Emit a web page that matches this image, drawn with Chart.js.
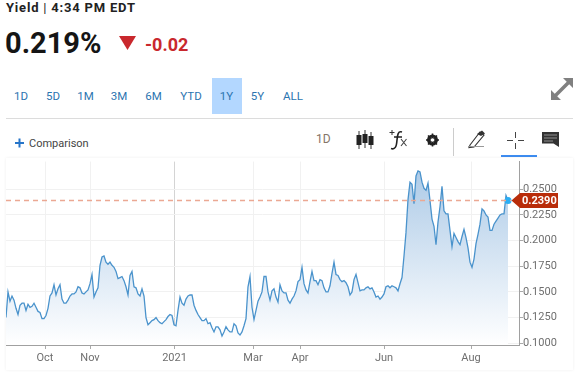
<!DOCTYPE html>
<html>
<head>
<meta charset="utf-8">
<script src="https://cdn.jsdelivr.net/npm/chart.js@4"></script>
<style>
html, body { margin: 0; padding: 0; background: #fff; }
body { width: 580px; height: 373px; overflow: hidden; position: relative; font-family: Roboto, Arial, sans-serif; }
.t { position: absolute; white-space: nowrap; line-height: 1; }
.range { position: absolute; top: 90px; width: 30px; margin-left: -15px; text-align: center; font-size: 11.5px; line-height: 12px; color: #2b74b0; }
#card { position: absolute; left: 6px; top: 158px; width: 567px; height: 212px; box-shadow: 0 0 3px rgba(0,0,0,0.07); }
#chartBox { position: absolute; left: 0; top: 155px; width: 580px; height: 218px; }
svg { position: absolute; overflow: visible; }
</style>
</head>
<body>
<div class="t" style="left:6px;top:1px;font-size:13px;font-weight:700;color:#222;letter-spacing:.8px">Yield <span style="font-weight:400">|</span> 4:34 PM EDT</div>
<div class="t" style="left:5px;top:29px;font-size:29px;font-weight:700;color:#151515">0.219%</div>
<svg style="left:0;top:0" width="10" height="10"><path d="M119 36 H136 L127.500 50 Z" fill="#c9282d"/></svg>
<div class="t" style="left:145px;top:35.500px;font-size:18px;font-weight:700;color:#c9282d">-0.02</div>

<div style="position:absolute;left:212px;top:78px;width:30px;height:36px;background:#b3d7ff"></div>
<div id="ranges"></div>
<svg style="left:0;top:0" width="10" height="10">
  <path d="M551 100 V90 L561 100 Z M573 78 H563 L573 88 Z" fill="#808080"/>
  <path d="M555 96 L569 82" stroke="#808080" stroke-width="3.500"/>
</svg>
<div style="position:absolute;left:6px;top:118px;width:567px;height:1px;background:#dcdcdc"></div>

<svg style="left:0;top:0" width="10" height="10"><path d="M19.500 138.500 V147.500 M15 143 H24" stroke="#2675c9" stroke-width="2"/></svg>
<div class="t" style="left:29px;top:137.500px;font-size:11px;color:#444">Comparison</div>
<div class="t" style="left:316px;top:133px;font-size:12px;color:#857568">1D</div>

<svg style="left:0;top:0" width="10" height="10">
  <path d="M359 131 V149 M365 130 V148 M371 132 V149" stroke="#333" stroke-width="1"/>
  <rect x="356.500" y="135" width="5" height="10" fill="#222"/><rect x="362.500" y="134" width="5" height="9" fill="#222"/><rect x="368.500" y="136" width="5" height="9" fill="#222"/>
  <path d="M392 130 V135 M389.500 132.500 H394.500" stroke="#333" stroke-width="1"/>
  <path d="M402 132 C398 130.500 397.500 135 397 140 C396.500 147 395 150 391 148.500 M394 137 H402" stroke="#222" stroke-width="1.600" fill="none"/>
  <path d="M401 139 L406.500 146 M406.500 139 L401 146" stroke="#444" stroke-width="1.100"/>
  <circle cx="432.500" cy="140" r="4" fill="none" stroke="#222" stroke-width="3"/>
  <path d="M432.500 133.500 V146.500 M426 140 H439 M428 135.500 L437 144.500 M437 135.500 L428 144.500" stroke="#222" stroke-width="1.600"/>
  <circle cx="432.500" cy="140" r="1.800" fill="#fff"/>
  <path d="M453.500 128 V156" stroke="#ccc"/>
  <path d="M470 145 L480 132 L484 135 L474 147 L469 147.500 Z" fill="none" stroke="#333" stroke-width="1.100"/>
  <path d="M477 134 L482 130.500 L485 133.500 L481 136 Z" fill="#333"/>
  <path d="M468 146.500 H484" stroke="#999"/>
  <path d="M507 140.500 H513 M518 140.500 H524 M515.500 132 V138 M515.500 143 V149" stroke="#444"/>
  <rect x="501" y="155" width="36" height="2" fill="#3d8cf0"/>
  <path d="M542 132 H559 V147 L553.500 143.500 H542 Z" fill="#333"/>
  <path d="M544 135 H557 M544 138 H557 M544 141 H553" stroke="#aaa" stroke-width=".8"/>
</svg>

<div id="card"></div>
<div id="chartBox"><canvas id="yieldChart" width="580" height="218"></canvas></div>

<script>
const rangeLabels = ['1D', '5D', '1M', '3M', '6M', 'YTD', '1Y', '5Y', 'ALL'];
const rangeCenters = [21, 53, 85.5, 119, 153.5, 191, 226.5, 257.5, 293];

// one close per trading day, Sep 2020 to Aug 2021
const yields = [
    .125,.150,.141,.146,.142,.134,.128,.137,.139,.139,.132,.138,.135,.136,.139,.135,.131,.130,.124,.124,
    .127,.134,.146,.149,.157,.147,.153,.157,.143,.139,.139,.142,.146,.148,.148,.150,.155,.154,.149,.148,.150,.152,.158,
    .167,.145,.150,.154,.176,.184,.185,.179,.177,.179,.176,.174,.170,.163,.164,.165,.161,.155,.147,.166,.170,.155,.154,.148,.146,.153,.146,.125,.118,.120,.122,.123,.125,.122,.120,.119,.121,.123,.126,.128,.127,.118,.117,.132,.145,
    .139,.137,.143,.146,.147,.147,.137,.132,.128,.125,.122,.122,.124,.119,.120,.115,.111,.116,.116,.113,.107,.111,.116,.113,.111,.111,.119,.117,.110,.108,.111,.117,.124,.155,.165,.135,.123,.132,.141,.145,.150,.165,.165,.150,.142,
    .151,.153,.145,.140,.157,.151,.149,.149,.142,.139,.143,.146,.151,.160,.162,.174,.158,.152,.149,.160,.170,.161,.161,.157,.162,.161,.154,.150,.150,.156,.168,.179,.167,.166,.162,.160,.161,.159,.155,.147,.150,.162,.167,.159,.151,
    .152,.152,.154,.155,.153,.154,.150,.145,.146,.143,.145,.148,.155,.156,.154,.156,.155,.154,.151,.158,.164,.185,.208,.240,.257,.255,.236,.263,.268,.267,.257,.251,.249,.256,.239,.221,.214,.196,.218,.233,.253,.229,.226,.226,.210,.194,.207,.203,.199,.196,.204,.211,.203,.193,.179,.174,.182,.197,.206,.216,.231,.229,.225,.223,.210,.210,.216,.219,.222,.225,.226,.226,.244,.239
];
const lastYield = 0.2390;

const monthLabels = ['Oct', 'Nov', '2021', 'Mar', 'Apr', 'Jun', 'Aug'];
const monthPositions = [19.5, 42, 84.25, 123.5, 147, 189, 232.5];
const yTicks = [0.10, 0.125, 0.15, 0.175, 0.20, 0.225, 0.25];

rangeLabels.forEach(function (label, i) {
    const d = document.createElement('div');
    d.className = 'range';
    d.style.left = rangeCenters[i] + 'px';
    d.textContent = label;
    document.getElementById('ranges').appendChild(d);
});

// dashed last value line and the red price tag on the axis
const lastValuePlugin = {
    id: 'lastValue',
    afterDatasetsDraw(chart) {
        const c = chart.ctx;
        const area = chart.chartArea;
        const y = chart.scales.y.getPixelForValue(lastYield);
        c.save();
        c.strokeStyle = '#eba893';
        c.lineWidth = 1.5;
        c.setLineDash([5, 4]);
        c.beginPath();
        c.moveTo(area.left, y);
        c.lineTo(area.right - 8, y);
        c.stroke();
        c.setLineDash([]);
        c.fillStyle = '#b92d0a';
        c.beginPath();
        c.moveTo(area.right - 7.5, y);
        c.lineTo(area.right + 1, y - 7.5);
        c.lineTo(area.right + 39, y - 7.5);
        c.lineTo(area.right + 39, y + 7.5);
        c.lineTo(area.right + 1, y + 7.5);
        c.closePath();
        c.fill();
        c.fillStyle = '#fff';
        c.font = 'bold 11px Roboto, Arial, sans-serif';
        c.textBaseline = 'middle';
        c.fillText(lastYield.toFixed(4), area.right + 3, y + 0.5);
        c.restore();
    }
};

new Chart(document.getElementById('yieldChart'), {
    type: 'line',
    data: {
        datasets: [{
            data: yields.map((v, i) => ({ x: i, y: v })),
            borderColor: '#4a93cc',
            borderWidth: 1.3,
            tension: 0,
            fill: 'start',
            backgroundColor: function (context) {
                const area = context.chart.chartArea;
                if (!area) return 'transparent';
                const g = context.chart.ctx.createLinearGradient(0, area.top, 0, area.bottom);
                g.addColorStop(0, '#a9c8e6');
                g.addColorStop(1, '#ffffff');
                return g;
            },
            pointRadius: ctx => ctx.dataIndex === yields.length - 1 ? 3.5 : 0,
            pointBackgroundColor: '#29aef5',
            pointBorderWidth: 0
        }]
    },
    plugins: [lastValuePlugin],
    options: {
        responsive: false,
        animation: false,
        layout: { padding: { left: 6, top: 1, right: 0, bottom: 0 } },
        plugins: { legend: { display: false }, tooltip: { enabled: false } },
        scales: {
            x: {
                type: 'linear',
                min: 0,
                max: 256.5,
                afterBuildTicks: axis => { axis.ticks = monthPositions.map(v => ({ value: v })); },
                afterFit: axis => { axis.height = 28; },
                ticks: {
                    autoSkip: false,
                    maxRotation: 0,
                    padding: 3,
                    color: '#6f6f6f',
                    font: { family: 'Roboto, Arial, sans-serif', size: 11 },
                    callback: v => monthLabels[monthPositions.indexOf(v)]
                },
                grid: {
                    color: ctx => ctx.tick && ctx.tick.value === 84.25 ? '#d4d4d4' : '#f1f1f1',
                    tickColor: '#aaaaaa',
                    tickLength: 4
                },
                border: { color: '#a0a0a0' }
            },
            y: {
                position: 'right',
                min: 0.09825,
                max: 0.27702,
                afterBuildTicks: axis => { axis.ticks = yTicks.map(v => ({ value: v })); },
                afterFit: axis => { axis.width = 61; },
                ticks: {
                    padding: 0,
                    color: '#6f6f6f',
                    font: { family: 'Roboto, Arial, sans-serif', size: 11 },
                    callback: v => v.toFixed(4)
                },
                grid: { color: '#f1f1f1', tickColor: '#aaaaaa', tickLength: 4 },
                border: { color: '#a0a0a0' }
            }
        }
    }
});
</script>
</body>
</html>
